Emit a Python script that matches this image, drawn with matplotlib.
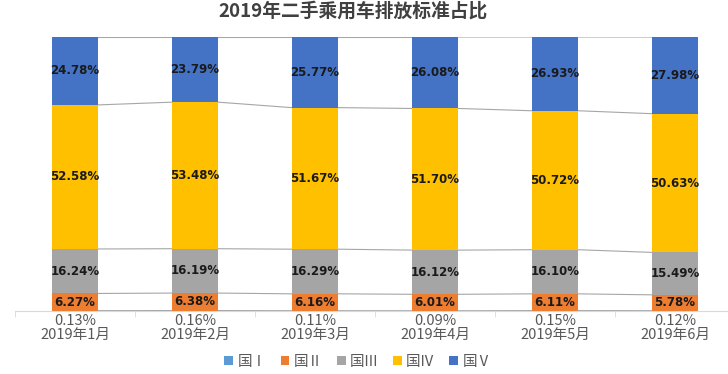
import matplotlib
matplotlib.use("Agg")
import matplotlib.pyplot as plt
import numpy as np

plt.rcParams['font.family'] = ['Noto Sans CJK SC', 'DejaVu Sans']

months = ["2019年1月", "2019年2月", "2019年3月", "2019年4月", "2019年5月", "2019年6月"]
series_names = ["国Ⅰ", "国Ⅱ", "国Ⅲ", "国Ⅳ", "国Ⅴ"]
guo1 = [0.13, 0.16, 0.11, 0.09, 0.15, 0.12]
guo2 = [6.27, 6.38, 6.16, 6.01, 6.11, 5.78]
guo3 = [16.24, 16.19, 16.29, 16.12, 16.10, 15.49]
guo4 = [52.58, 53.48, 51.67, 51.70, 50.72, 50.63]
guo5 = [24.78, 23.79, 25.77, 26.08, 26.93, 27.98]
colors = ["#5B9BD5", "#ED7D31", "#A5A5A5", "#FFC000", "#4472C4"]

data = [guo1, guo2, guo3, guo4, guo5]
x = np.arange(len(months))
width = 0.39

fig = plt.figure(figsize=(7.28, 3.74), dpi=100)
ax = fig.add_axes([15/728, 63/374, 720/728, 274/374])

bottom = np.zeros(len(months))
for i, (vals, name, c) in enumerate(zip(data, series_names, colors)):
    vals = np.array(vals)
    cont = ax.bar(x, vals, width, bottom=bottom, color=c, label=name, zorder=3)
    top = bottom + vals
    # series lines
    for j in range(len(x) - 1):
        ax.plot([x[j] + width/2, x[j+1] - width/2], [top[j], top[j+1]],
                color="#A6A6A6", lw=0.8, zorder=2)
    if i >= 1:
        ax.bar_label(cont, labels=[f"{v:.2f}%" for v in vals], label_type='center',
                     fontsize=8.5, fontweight='bold', color='#1a1a1a',
                     family=['DejaVu Sans'], zorder=5)
    bottom = top

ax.set_xlim(-0.5, len(months) - 0.5)
ax.set_ylim(0, 100)
ax.set_xticks(x)
ax.set_xticklabels([f"{v:.2f}%\n{m}" for v, m in zip(guo1, months)],
                   fontsize=10.5, color="#595959", linespacing=1.0)
ax.set_xticks(np.arange(-0.5, len(months), 1), minor=True)
ax.tick_params(axis='x', which='major', length=0, pad=2)
ax.tick_params(axis='x', which='minor', length=4, color="#D9D9D9")
ax.set_yticks([])
for s in ['top', 'left', 'right']:
    ax.spines[s].set_visible(False)
ax.spines['bottom'].set_color("#D9D9D9")

fig.text(353/728, 1 - 11/374, "2019年二手乘用车排放标准占比", ha='center', va='center',
         fontsize=13.5, fontweight='bold', color="#404040")

leg = fig.legend(loc='center', bbox_to_anchor=(358/728, 1 - 362/374), ncol=5,
                 frameon=False, fontsize=10.5, handlelength=0.6, handleheight=0.6,
                 handletextpad=0.3, columnspacing=0.95, labelcolor="#595959")

fig.savefig("out.png", dpi=100)
